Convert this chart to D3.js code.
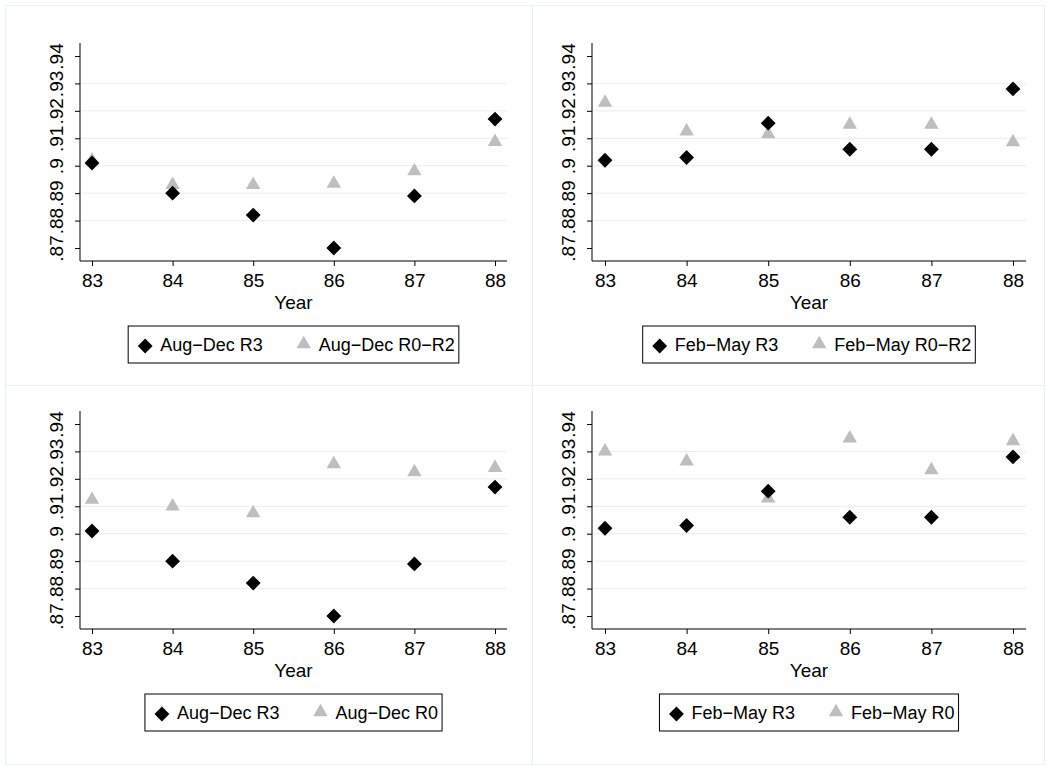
<!doctype html>
<html>
<head>
<meta charset="utf-8">
<script src="https://cdn.jsdelivr.net/npm/d3@7"></script>
<style>
  body { margin: 0; background: #fff; font-family: "Liberation Sans", Arial, sans-serif; }
  .grid line { stroke: #e6eef0; }
  .frame { fill: none; stroke: #eaf1f2; }
</style>
</head>
<body>
<svg id="chart" width="1050" height="770"></svg>
<script>
  // Data
  var years = [83, 84, 85, 86, 87, 88];
  var yTicks = [0.87, 0.88, 0.89, 0.90, 0.91, 0.92, 0.93, 0.94];
  var yTickLabels = [".87", ".88", ".89", ".9", ".91", ".92", ".93", ".94"];

  var augR3    = [0.901, 0.890, 0.882, 0.870, 0.889, 0.917];
  var augR0R2  = [0.902, 0.893, 0.893, 0.8935, 0.898, 0.9087];
  var febR3    = [0.902, 0.903, 0.9155, 0.906, 0.906, 0.928];
  var febR0R2  = [0.923, 0.9125, 0.9115, 0.915, 0.915, 0.9086];
  var augR0    = [0.9124, 0.910, 0.9075, 0.9254, 0.9225, 0.924];
  var febR0    = [0.930, 0.9264, 0.9129, 0.9348, 0.9232, 0.9338];

  var panels = [
    { col: 0, row: 0, a: augR3, b: augR0R2, la: "Aug\u2212Dec R3", lb: "Aug\u2212Dec R0\u2212R2" },
    { col: 1, row: 0, a: febR3, b: febR0R2, la: "Feb\u2212May R3", lb: "Feb\u2212May R0\u2212R2" },
    { col: 0, row: 1, a: augR3, b: augR0,   la: "Aug\u2212Dec R3", lb: "Aug\u2212Dec R0" },
    { col: 1, row: 1, a: febR3, b: febR0,   la: "Feb\u2212May R3", lb: "Feb\u2212May R0" }
  ];

  // Layout per column / row
  var cols = [
    { left: 80, right: 507, x0: 92, x1: 495 },
    { left: 592, right: 1026, x0: 605, x1: 1013 }
  ];
  var rows = [
    { top: 43, bottom: 261, y94: 56, y87: 248, off: 0 },
    { top: 411, bottom: 629, y94: 424, y87: 616, off: 368 }
  ];

  var svg = d3.select("#chart");

  // Panel frames
  svg.append("rect").attr("class", "frame").attr("x", 5.5).attr("y", 5.5).attr("width", 1039).attr("height", 759);
  svg.append("line").attr("class", "frame").attr("x1", 532.5).attr("x2", 532.5).attr("y1", 5).attr("y2", 765);
  svg.append("line").attr("class", "frame").attr("x1", 5).attr("x2", 1045).attr("y1", 385.5).attr("y2", 385.5);

  var diamond = d3.symbol().type(d3.symbolSquare).size(110);
  var triangle = d3.symbol().type(d3.symbolTriangle).size(90);

  panels.forEach(function(p) {
    var c = cols[p.col], r = rows[p.row];
    var x = d3.scaleLinear().domain([83, 88]).range([c.x0, c.x1]);
    var y = d3.scaleLinear().domain([0.87, 0.94]).range([r.y87, r.y94]);
    var g = svg.append("g");

    // Gridlines
    g.append("g").attr("class", "grid")
      .selectAll("line").data(yTicks.slice(1, -1)).enter().append("line")
      .attr("x1", c.left + 1).attr("x2", c.right)
      .attr("y1", function(d) { return y(d); }).attr("y2", function(d) { return y(d); });

    // Y axis
    var ya = g.append("g").attr("transform", "translate(" + c.left + ",0)")
      .call(d3.axisLeft(y).tickValues(yTicks).tickSize(5).tickFormat(function(d, i) { return yTickLabels[i]; }));
    ya.select(".domain").attr("d", "M0," + r.top + "V" + r.bottom);
    ya.selectAll("text")
      .attr("transform", "translate(-17,0) rotate(-90)")
      .attr("x", 0).attr("y", 0).attr("dy", "0").style("text-anchor", "middle")
      .style("font-size", "19px").style("font-family", "Liberation Sans, Arial, sans-serif");

    // X axis
    var xa = g.append("g").attr("transform", "translate(0," + r.bottom + ")")
      .call(d3.axisBottom(x).tickValues(years).tickSize(5).tickFormat(d3.format("d")));
    xa.select(".domain").attr("d", "M" + c.left + ",0H" + c.right);
    xa.selectAll("text").style("font-size", "19px").attr("dy", "0.95em")
      .style("font-family", "Liberation Sans, Arial, sans-serif");
    svg.selectAll(".tick line, .domain").attr("stroke", "#000");

    g.append("text").attr("x", (c.left + c.right) / 2).attr("y", r.bottom + 48)
      .attr("text-anchor", "middle").style("font-size", "19px").text("Year");

    // Points
    g.selectAll(".tri").data(p.b).enter().append("path")
      .attr("d", triangle).attr("fill", "#bebebe")
      .attr("transform", function(d, i) { return "translate(" + x(years[i]) + "," + y(d) + ")"; });
    g.selectAll(".dia").data(p.a).enter().append("path")
      .attr("d", diamond).attr("fill", "#000")
      .attr("transform", function(d, i) { return "translate(" + x(years[i]) + "," + y(d) + ") rotate(45)"; });

    // Legend
    var lg = g.append("g");
    var ly = 326 + r.off, lh = 37;
    var t1 = lg.append("text").attr("y", ly + 25).style("font-size", "18px").text(p.la);
    var t2 = lg.append("text").attr("y", ly + 25).style("font-size", "18px").text(p.lb);
    var w1 = t1.node().getComputedTextLength(), w2 = t2.node().getComputedTextLength();
    var total = 10 + 14 + 8 + w1 + 34 + 14 + 8 + w2 + 4;
    var lx = (c.left + c.right) / 2 - total / 2;
    lg.insert("rect", "text").attr("x", lx).attr("y", ly).attr("width", total).attr("height", lh)
      .attr("fill", "#fff").attr("stroke", "#000");
    lg.append("path").attr("d", diamond).attr("fill", "#000")
      .attr("transform", "translate(" + (lx + 17) + "," + (ly + 20) + ") rotate(45)");
    t1.attr("x", lx + 32);
    var x2 = lx + 32 + w1 + 34;
    lg.append("path").attr("d", triangle).attr("fill", "#bebebe")
      .attr("transform", "translate(" + (x2 + 7) + "," + (ly + 18) + ")");
    t2.attr("x", x2 + 22);
  });
</script>
</body>
</html>
